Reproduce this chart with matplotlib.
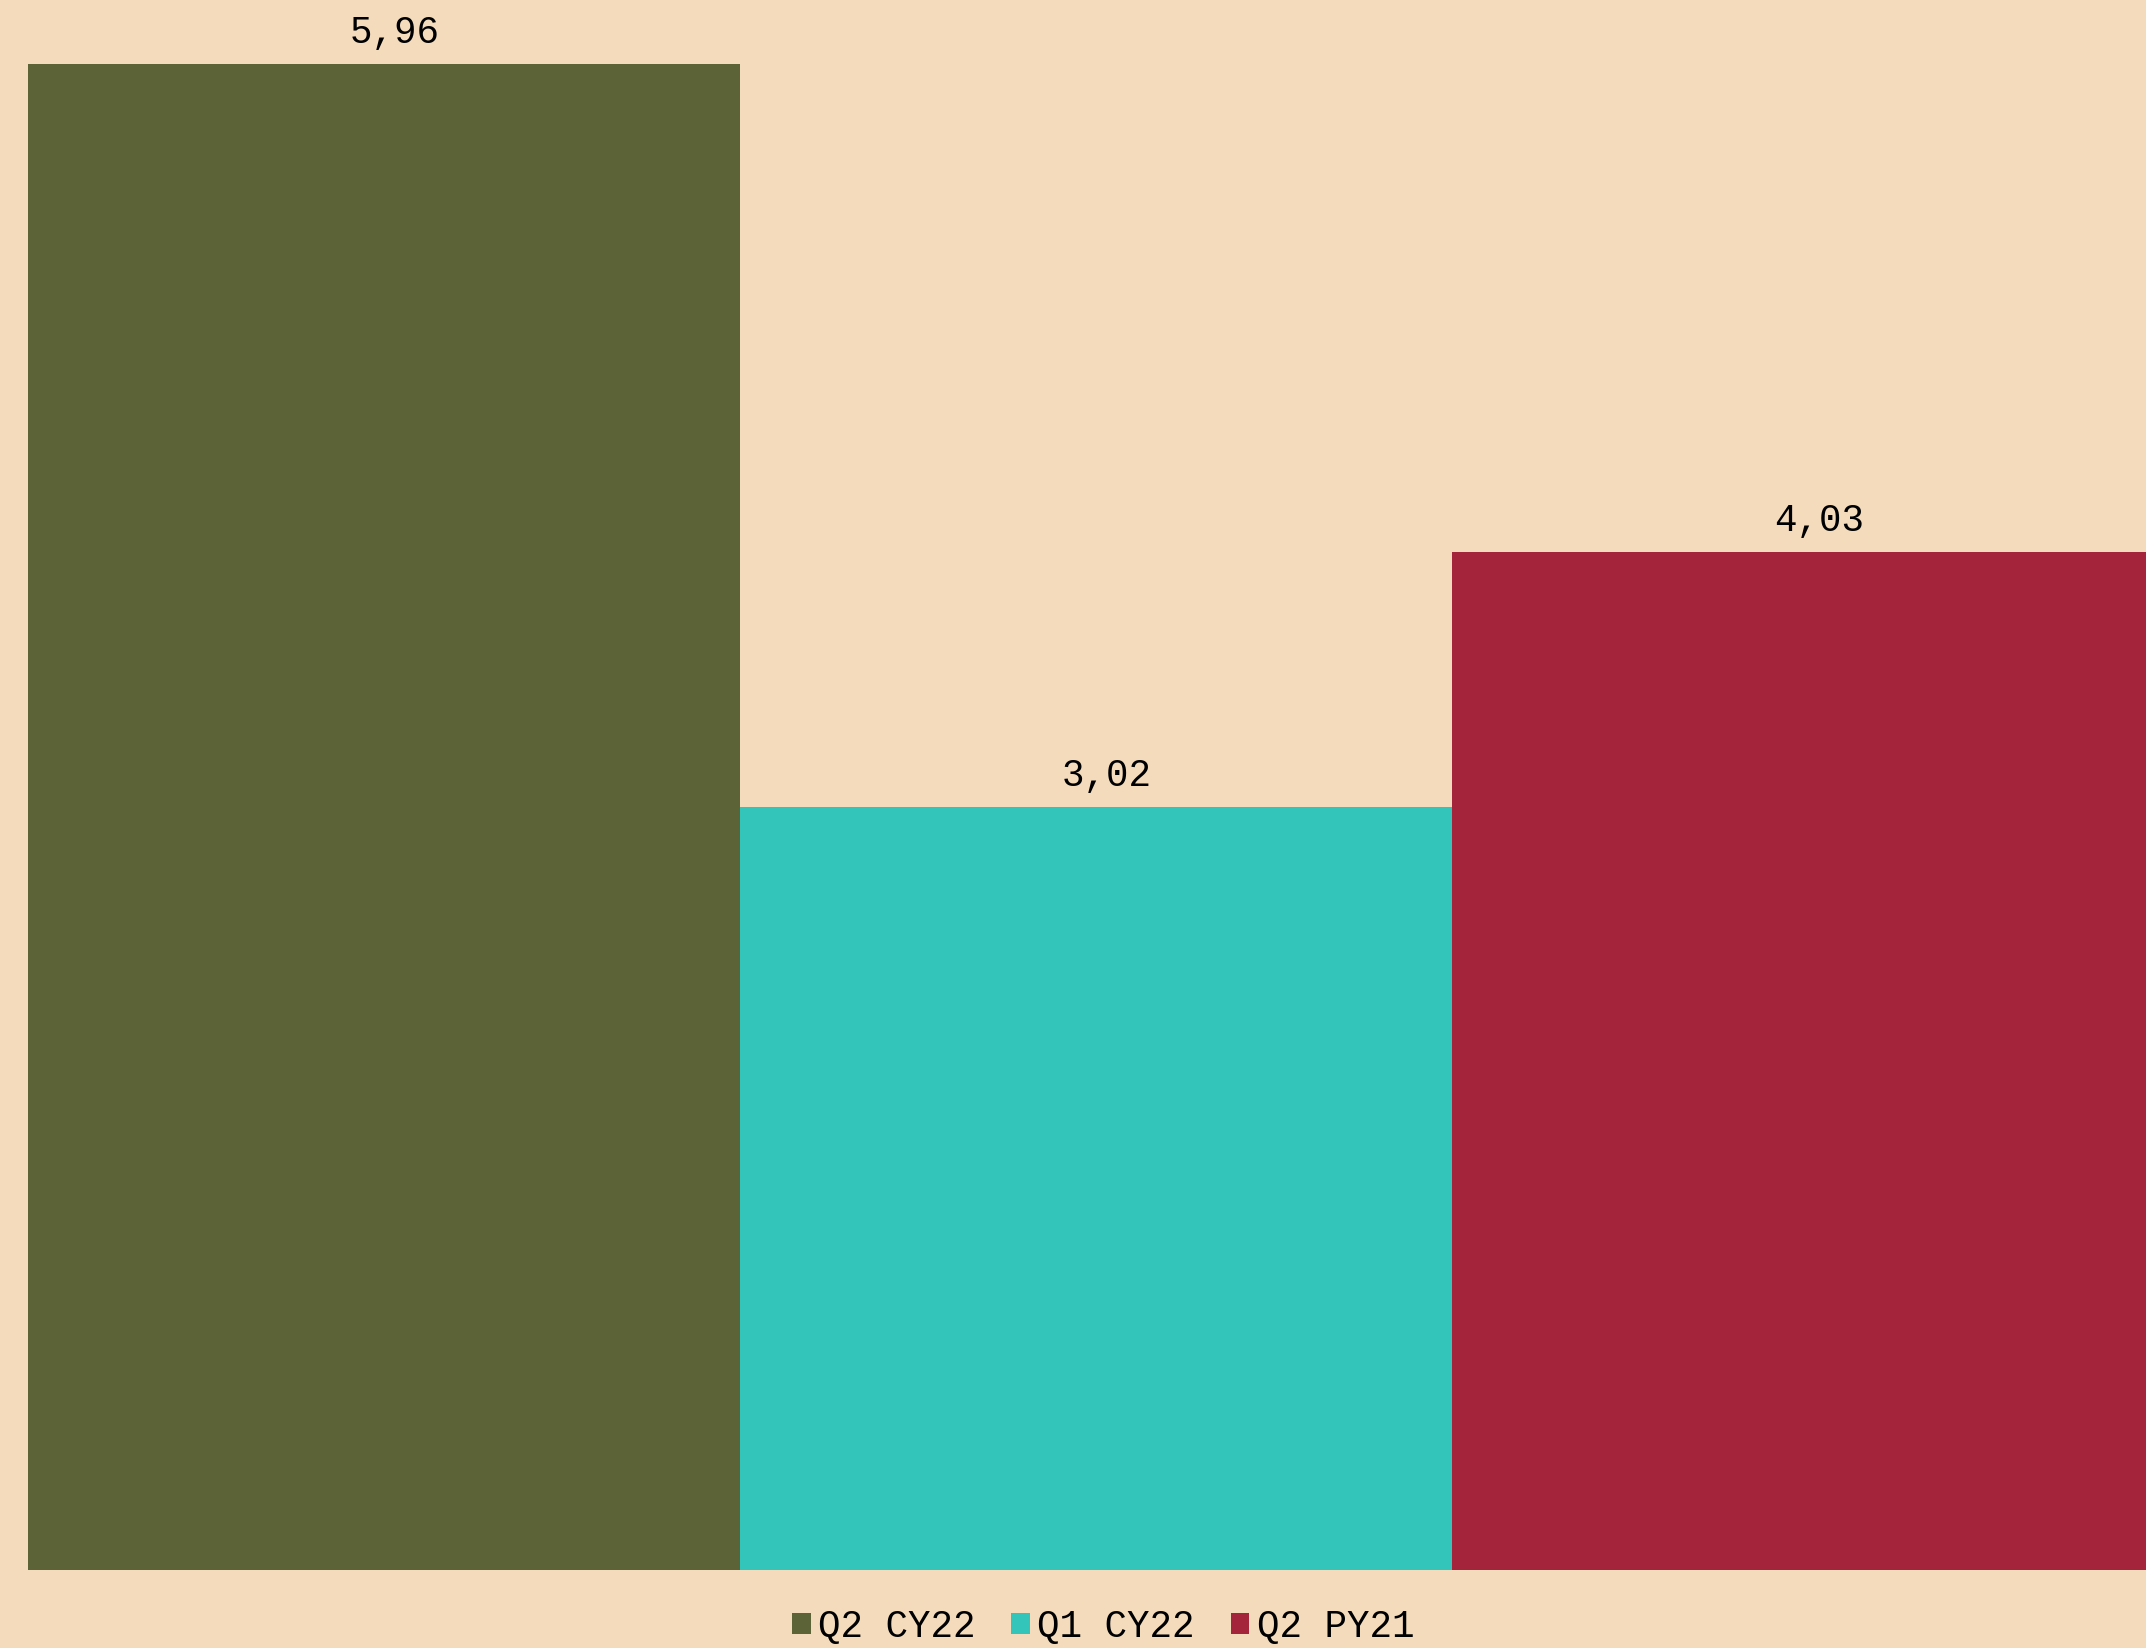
import matplotlib
matplotlib.use('Agg')
import matplotlib.pyplot as plt
from matplotlib.patches import Patch

# data
periods = ['Q2 CY22', 'Q1 CY22', 'Q2 PY21']
values = [5.96, 3.02, 4.03]
colors = ['#5c6336', '#34c5ba', '#a3243b']
bg = '#f3dbbc'

plt.rcParams['font.family'] = ['Liberation Mono', 'DejaVu Sans Mono']

fig = plt.figure(figsize=(21.46, 16.48), dpi=100, facecolor=bg)
ax = fig.add_axes([28/2146, 78/1648, 1 - 28/2146, 1 - 78/1648])
ax.set_facecolor(bg)

x = list(range(len(values)))
ax.bar(x, values, width=1.0, color=colors, align='center')
for xi, v in zip(x, values):
    ax.text(xi + 0.015, v + 0.05, f'{v:.2f}'.replace('.', ','),
            ha='center', va='bottom', fontsize=27, color='black')

ax.set_xlim(-0.5, -0.5 + 2118/712)
ax.set_ylim(0, 1570/252.7)
ax.axis('off')

handles = [Patch(facecolor=c, edgecolor='none') for c in colors]
fig.legend(handles, periods, loc='center', bbox_to_anchor=(1103/2146, 1 - 1627/1648),
           ncol=3, frameon=False, fontsize=27, handlelength=0.5, handleheight=0.5,
           handletextpad=0.2, columnspacing=0.95, borderpad=0)

fig.savefig('out.png', dpi=100, facecolor=bg)
